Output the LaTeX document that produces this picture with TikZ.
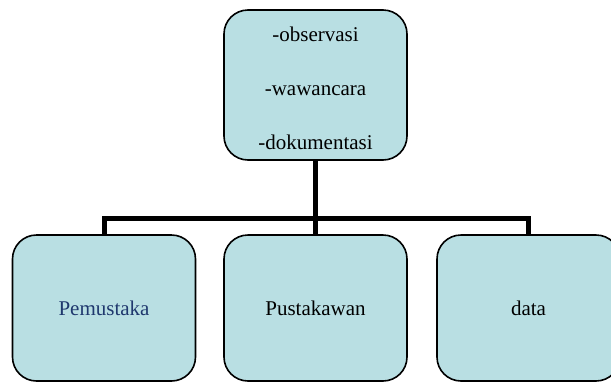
\documentclass[tikz,border=0pt]{standalone}
\usepackage{fontspec}
\setmainfont{Liberation Serif}
\usepackage{tikz}
\usetikzlibrary{positioning,calc}
\definecolor{boxfill}{RGB}{185,223,227}
\definecolor{pemblue}{RGB}{31,56,110}

\begin{document}
\begin{tikzpicture}[x=1pt,y=-1pt,
    kotak/.style={draw=black, line width=1.6pt, fill=boxfill, rounded corners=24pt,
      minimum width=183pt, inner sep=0pt, align=center,
      font=\fontsize{21}{54}\selectfont},
    tangkai/.style={line width=5pt}]
    \useasboundingbox (0,0) rectangle (611,381);
    \clip (0,0) rectangle (611,381);
    % top box with the three methods
    \node[kotak, minimum height=150pt] (metode) at (315.5,85)
      {\smash{\raisebox{-5pt}{\begin{tabular}{@{}c@{}}-observasi\\-wawancara\\-dokumentasi\end{tabular}}}};
    % three boxes below
    \node[kotak, minimum height=146pt, text=pemblue] (pemustaka) at (104,308) {Pemustaka};
    \node[kotak, minimum height=146pt] (pustakawan) at (315.5,308) {Pustakawan};
    \node[kotak, minimum height=146pt] (data) at (528.5,308) {data};
    % connectors
    \coordinate (cabang) at (315.5,218);
    \draw[tangkai] (metode.south) -- (pustakawan.north);
    \draw[tangkai] (pemustaka.north) |- (cabang);
    \draw[tangkai] (data.north) |- (cabang);
  \end{tikzpicture}
\end{document}
